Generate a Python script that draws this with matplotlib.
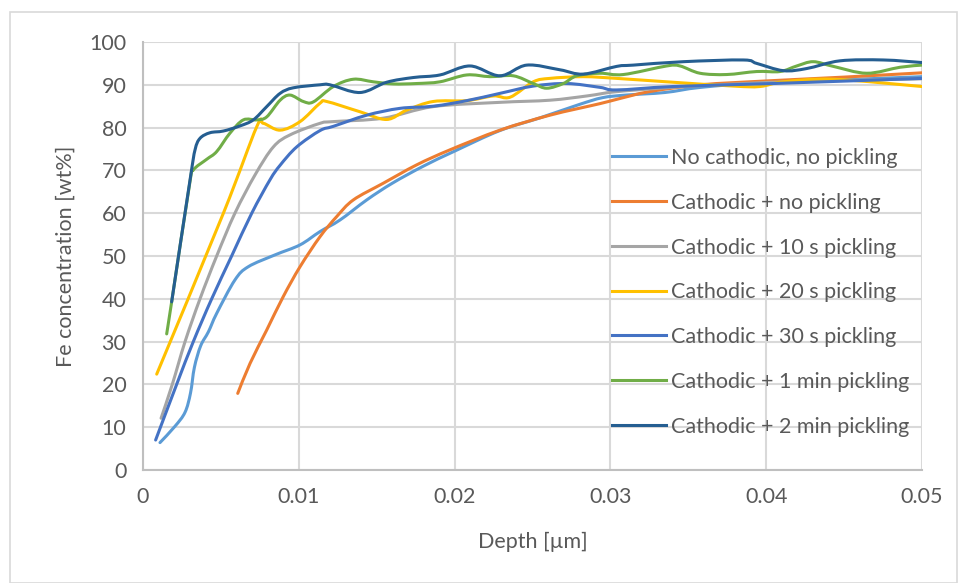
import matplotlib
matplotlib.use("Agg")
import matplotlib.pyplot as plt
from matplotlib.patches import Rectangle, PathPatch
from matplotlib.path import Path
from matplotlib.lines import Line2D
import numpy as np

# depth [um] / Fe concentration [wt%] profiles
no_cath_x = [0.00109, 0.00205, 0.0027, 0.00305, 0.0033, 0.0037, 0.0042, 0.00473, 0.0059, 0.00676,
             0.0085, 0.01008, 0.01136, 0.01264, 0.01436, 0.016, 0.018, 0.0200, 0.0229, 0.0255,
             0.0280, 0.0295, 0.0310, 0.0335, 0.0358, 0.040, 0.045, 0.050]
no_cath_y = [6.4, 10.2, 13.5, 18.0, 24.0, 29.0, 32.3, 36.6, 44.4, 47.5,
             50.3, 52.6, 55.7, 58.4, 63.1, 67.0, 71.0, 74.5, 79.3, 82.3,
             85.4, 87.0, 87.6, 88.2, 89.4, 90.6, 91.2, 91.9]

cath_x = [0.00608, 0.00687, 0.00794, 0.009, 0.01008, 0.01136, 0.01243, 0.0135, 0.01542, 0.01757,
          0.0197, 0.02291, 0.02612, 0.02933, 0.0304, 0.0325, 0.0358, 0.040, 0.045, 0.050]
cath_y = [17.9, 24.9, 32.7, 40.5, 47.5, 54.5, 59.2, 63.1, 67.0, 71.3,
          74.8, 79.4, 82.9, 85.6, 86.6, 88.4, 90.0, 90.9, 91.8, 92.8]

p10_x = [0.00116, 0.00188, 0.0027, 0.00366, 0.00473, 0.0059, 0.0072, 0.00837, 0.00944,
         0.01136, 0.01222, 0.01542, 0.01863, 0.02291, 0.02612, 0.0285, 0.0304, 0.034,
         0.038, 0.042, 0.046, 0.050]
p10_y = [12.1, 20.0, 30.0, 40.0, 50.0, 60.0, 69.0, 75.5, 78.3,
         81.0, 81.4, 82.2, 84.9, 85.9, 86.4, 87.4, 88.4, 89.4,
         90.2, 90.8, 91.1, 91.4]

p20_x = [0.00088, 0.00516, 0.0073, 0.00772, 0.0088, 0.01008, 0.01136, 0.01179, 0.01393, 0.01564,
         0.01693, 0.01863, 0.02078, 0.02249, 0.02356, 0.02505, 0.02612, 0.02826, 0.0304, 0.03361,
         0.03789, 0.0396, 0.0411, 0.04431, 0.050]
p20_y = [22.4, 60.0, 80.2, 81.0, 79.4, 81.4, 85.7, 86.1, 83.7, 81.9,
         84.1, 86.1, 86.3, 87.4, 87.1, 90.7, 91.5, 91.9, 91.5, 90.7,
         89.7, 89.6, 90.7, 91.3, 89.6]

p30_x = [0.00081, 0.00216, 0.00323, 0.00441, 0.00569, 0.00698, 0.00815, 0.0088, 0.00987, 0.01136,
         0.01222, 0.01436, 0.0165, 0.01863, 0.02078, 0.02291, 0.02505, 0.0272, 0.02933, 0.0304,
         0.03404, 0.04046, 0.050]
p30_y = [7.0, 20.0, 30.0, 40.0, 50.0, 60.0, 67.8, 71.2, 75.5, 79.3,
         80.3, 82.9, 84.5, 85.0, 86.3, 88.0, 89.7, 90.3, 89.4, 88.8,
         89.6, 90.3, 91.5]

p1m_x = [0.00152, 0.00184, 0.0030, 0.00323, 0.00409, 0.00473, 0.00558, 0.00644, 0.0073, 0.00794,
         0.0088, 0.00944, 0.01029, 0.01093, 0.01222, 0.0135, 0.01478, 0.01607, 0.01757, 0.01906,
         0.02078, 0.02227, 0.02377, 0.02505, 0.02591, 0.02698, 0.02784, 0.02933, 0.03083, 0.03361,
         0.03447, 0.03575, 0.03746, 0.03939, 0.04089, 0.04196, 0.04302, 0.04431, 0.04645, 0.04859,
         0.050]
p1m_y = [31.8, 39.3, 67.0, 70.1, 72.6, 74.4, 78.7, 81.8, 81.8, 82.5,
         86.4, 87.6, 86.1, 86.0, 89.6, 91.3, 90.7, 90.2, 90.3, 90.7,
         92.3, 91.9, 92.1, 90.3, 89.2, 90.3, 92.1, 92.7, 92.4, 94.4,
         94.4, 92.7, 92.4, 93.1, 93.1, 94.4, 95.4, 94.3, 92.7, 94.1,
         94.6]

p2m_x = [0.00184, 0.00302, 0.00334, 0.00366, 0.0043, 0.00516, 0.00623, 0.00708, 0.00794, 0.0088,
         0.00965, 0.01136, 0.012, 0.01393, 0.01564, 0.01735, 0.01906, 0.02099, 0.02291, 0.02463,
         0.02677, 0.02826, 0.0304, 0.03147, 0.03468, 0.03853, 0.03939, 0.0411, 0.0426, 0.04474,
         0.04752, 0.050]
p2m_y = [39.3, 67.8, 74.8, 77.5, 78.8, 79.2, 80.4, 81.8, 84.9, 88.0,
         89.3, 90.0, 90.0, 88.2, 90.6, 91.7, 92.3, 94.4, 92.1, 94.6,
         93.5, 92.5, 94.3, 94.6, 95.4, 95.8, 95.0, 93.3, 93.8, 95.6,
         95.8, 95.2]

labels = ["No cathodic, no pickling", "Cathodic + no pickling", "Cathodic + 10 s pickling",
          "Cathodic + 20 s pickling", "Cathodic + 30 s pickling", "Cathodic + 1 min pickling",
          "Cathodic + 2 min pickling"]
colors = ["#5B9BD5", "#ED7D31", "#A5A5A5", "#FFC000", "#4472C4", "#70AD47", "#255E91"]
series = [(no_cath_x, no_cath_y), (cath_x, cath_y), (p10_x, p10_y), (p20_x, p20_y),
          (p30_x, p30_y), (p1m_x, p1m_y), (p2m_x, p2m_y)]


def smooth_path(ax, xs, ys):
    # cubic bezier through the points (catmull-rom tangents), built in display
    # space so the tangents are not distorted by the very different axis scales
    pts = ax.transData.transform(np.column_stack([xs, ys]))
    n = len(pts)
    verts = [pts[0]]
    codes = [Path.MOVETO]
    for i in range(n - 1):
        p0 = pts[max(i - 1, 0)]
        p1 = pts[i]
        p2 = pts[i + 1]
        p3 = pts[min(i + 2, n - 1)]
        c1 = p1 + (p2 - p0) / 6.0
        c2 = p2 - (p3 - p1) / 6.0
        verts += [c1, c2, p2]
        codes += [Path.CURVE4] * 3
    return Path(np.array(verts), codes)


plt.rcParams['font.family'] = ['Lato', 'DejaVu Sans']
txt = "#595959"
fs = 15.5

fig = plt.figure(figsize=(9.59, 5.83), dpi=100)
ax = fig.add_axes([143/959, 1 - 470/583, (922-143)/959, (470-42)/583])

ax.set_xlim(0, 0.05)
ax.set_ylim(0, 100)

handles = []
for (xs, ys), lab, c in zip(series, labels, colors):
    path = smooth_path(ax, xs, ys)
    ax.add_patch(PathPatch(path, transform=None, facecolor='none', edgecolor=c, lw=2.2,
                           capstyle='round', joinstyle='round', clip_on=True, zorder=2))
    handles.append(Line2D([], [], color=c, lw=2.2, label=lab))

ax.set_xticks([0, 0.01, 0.02, 0.03, 0.04, 0.05])
ax.set_xticklabels(['0', '0.01', '0.02', '0.03', '0.04', '0.05'])
ax.set_yticks(range(0, 101, 10))
ax.grid(True, color="#D9D9D9", lw=1.5)
ax.set_axisbelow(True)
for s in ['top', 'right']:
    ax.spines[s].set_visible(False)
for s in ['left', 'bottom']:
    ax.spines[s].set_color("#BFBFBF")
    ax.spines[s].set_linewidth(1.5)
ax.tick_params(length=0, labelsize=fs, labelcolor=txt)
ax.tick_params(axis='y', pad=12)
ax.tick_params(axis='x', pad=12)
ax.set_xlabel("Depth [µm]", fontsize=fs, color=txt, labelpad=18)
ax.set_ylabel("Fe concentration [wt%]", fontsize=fs, color=txt, labelpad=10)

ax.legend(handles=handles, loc='upper left', bbox_to_anchor=(612/959, 1 - 148/583),
          bbox_transform=fig.transFigure, frameon=False, fontsize=fs, labelcolor=txt,
          handlelength=2.5, handletextpad=0.25, labelspacing=1.15, borderpad=0, borderaxespad=0)

fig.patches.append(Rectangle((10/959, 0), 947/959, 1 - 12/583, transform=fig.transFigure,
                             fill=False, edgecolor="#D9D9D9", lw=1.2))

fig.savefig("out.png", dpi=100)
